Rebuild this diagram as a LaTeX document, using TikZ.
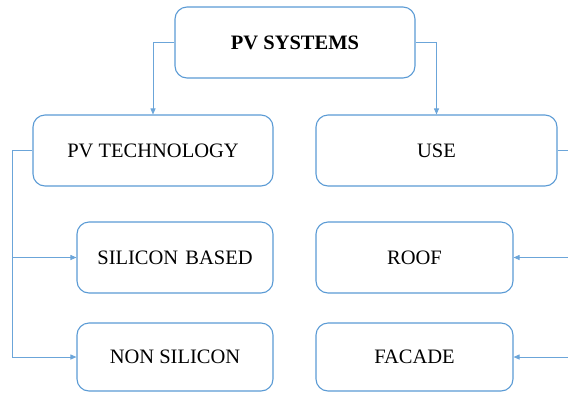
\documentclass[tikz,border=0pt]{standalone}
\usepackage{fontspec}
\setmainfont{Liberation Serif}
\newfontfamily\labelfont{Liberation Serif}
\usetikzlibrary{arrows.meta}
\definecolor{boxblue}{HTML}{5B9BD5}
\tikzset{
  card/.style={draw=boxblue, line width=1.1pt, rounded corners=12pt, fill=white,
    inner sep=0pt, font=\labelfont\fontsize{20.5}{24}\selectfont, text=black},
  link/.style={draw=boxblue!90!white, line width=0.9pt},
  linkarr/.style={link, -{Triangle[length=6pt,width=5pt]}}
}
\begin{document}
\begin{tikzpicture}[x=1pt,y=-1pt]
  \useasboundingbox (0,0) rectangle (568,392);
  \clip (0,0) rectangle (568,392);
  % boxes
  \node[card, minimum width=240pt, minimum height=71pt, font=\labelfont\fontsize{20.5}{24}\selectfont\bfseries] (sys) at (295,42.5) {PV SYSTEMS};
  \node[card, minimum width=240pt, minimum height=71pt] (tech) at (153,150.5) {PV TECHNOLOGY};
  \node[card, minimum width=241pt, minimum height=71pt] (use) at (436.5,150.5) {USE};
  \node[card, minimum width=196pt, minimum height=71pt] (sil) at (175,257.5) {SILICON\hspace{0.1em} BASED};
  \node[card, minimum width=196pt, minimum height=68pt] (nonsil) at (175,357) {NON SILICON};
  \node[card, minimum width=197pt, minimum height=71pt] (roof) at (414.5,257.5) {ROOF};
  \node[card, minimum width=197pt, minimum height=68pt] (facade) at (414.5,357) {FACADE};
  % top level links
  \draw[linkarr] (sys.west) -| (tech.north);
  \draw[linkarr] (sys.east) -| (use.north);
  % technology branch
  \coordinate (lt) at ([xshift=-20pt]tech.west);
  \draw[linkarr] (tech.west) -- (lt) |- (nonsil.west);
  \draw[linkarr] (lt |- sil.west) -- (sil.west);
  % use branch
  \coordinate (rt) at ([xshift=20pt]use.east);
  \draw[linkarr] (use.east) -- (rt) |- (facade.east);
  \draw[linkarr] (rt |- roof.east) -- (roof.east);
\end{tikzpicture}
\end{document}
